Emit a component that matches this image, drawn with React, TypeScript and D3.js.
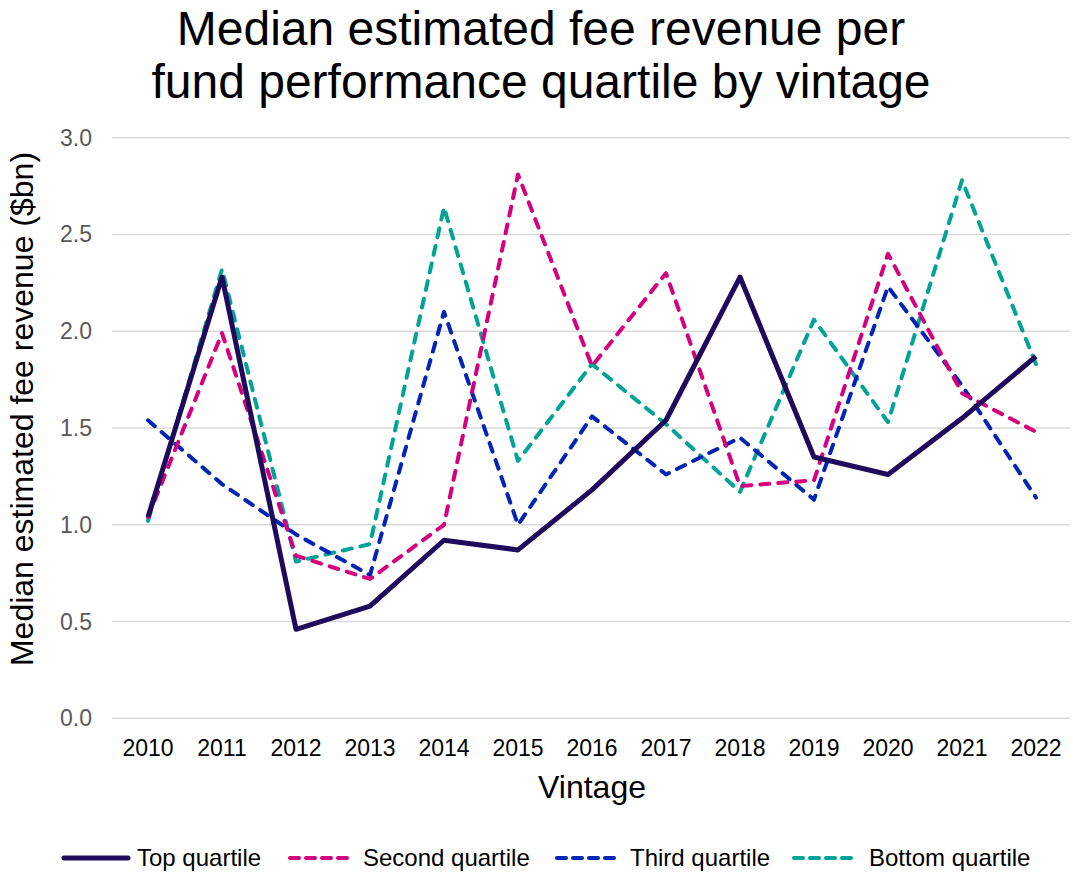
import React from 'react'
import * as d3 from 'd3'

const width = 1073
const height = 873

const vintages = ['2010', '2011', '2012', '2013', '2014', '2015', '2016', '2017', '2018', '2019', '2020', '2021', '2022']
const topQuartile = [1.04, 2.28, 0.46, 0.58, 0.92, 0.87, 1.18, 1.54, 2.28, 1.35, 1.26, 1.55, 1.87]
const secondQuartile = [1.04, 1.99, 0.84, 0.72, 1.0, 2.81, 1.82, 2.3, 1.2, 1.23, 2.4, 1.68, 1.48]
const thirdQuartile = [1.54, 1.21, 0.95, 0.74, 2.1, 1.0, 1.56, 1.26, 1.45, 1.13, 2.23, 1.72, 1.14]
const bottomQuartile = [1.02, 2.32, 0.81, 0.9, 2.64, 1.33, 1.83, 1.52, 1.17, 2.06, 1.53, 2.78, 1.83]
const yTicks = [0, 0.5, 1.0, 1.5, 2.0, 2.5, 3.0]

const seriesNames = ['Top quartile', 'Second quartile', 'Third quartile', 'Bottom quartile']
const seriesColors = ['#1f0b5b', '#d5007f', '#0024b4', '#00a395']

const font = 'Arial, "Liberation Sans", sans-serif'

export default function App() {
  const x = d3.scalePoint<string>().domain(vintages).range([148, 1036])
  const y = d3.scaleLinear().domain([0, 3]).range([718.3, 137.7])

  const line = d3.line<number>()
    .x((_, i) => x(vintages[i]) as number)
    .y(d => y(d))

  const series = [topQuartile, secondQuartile, thirdQuartile, bottomQuartile]
  // legend: [line start, line end, text x]
  const legendPos = [[64, 128, 137], [290, 347, 363], [557, 615, 630], [794, 851, 869]]

  return (
    <svg width={width} height={height} style={{ position: 'absolute', left: 0, top: 0, background: '#fff' }}>
      <rect width={width} height={height} fill="#fff" />
      <text x={541} y={45} textAnchor="middle" fontFamily={font} fontSize={48} fill="#000">Median estimated fee revenue per</text>
      <text x={541} y={98} textAnchor="middle" fontFamily={font} fontSize={48} fill="#000">fund performance quartile by vintage</text>

      {yTicks.map(t => (
        <g key={t}>
          <line x1={112} x2={1070} y1={y(t)} y2={y(t)} stroke="#d9d9d9" strokeWidth={1.5} />
          <text x={92} y={y(t) + 8} textAnchor="end" fontFamily={font} fontSize={23} fill="#595959">{t.toFixed(1)}</text>
        </g>
      ))}

      {vintages.map(v => (
        <text key={v} x={x(v)} y={756} textAnchor="middle" fontFamily={font} fontSize={23} fill="#000">{v}</text>
      ))}

      <text x={592} y={798} textAnchor="middle" fontFamily={font} fontSize={32} fill="#000">Vintage</text>
      <text transform="translate(33,409) rotate(-90)" textAnchor="middle" fontFamily={font} fontSize={32} fill="#000">Median estimated fee revenue ($bn)</text>

      {series.slice().reverse().map((s, ri) => {
        const i = series.length - 1 - ri
        return (
          <path key={i} d={line(s) || ''} fill="none" stroke={seriesColors[i]}
            strokeWidth={i === 0 ? 5 : 4}
            strokeDasharray={i === 0 ? undefined : '9,9'}
            strokeLinecap={i === 0 ? 'butt' : 'round'}
            strokeLinejoin="round" />
        )
      })}

      {seriesNames.map((name, i) => (
        <g key={name}>
          <line x1={legendPos[i][0]} x2={legendPos[i][1]} y1={858} y2={858} stroke={seriesColors[i]}
            strokeWidth={i === 0 ? 5 : 4}
            strokeDasharray={i === 0 ? undefined : '9,7'}
            strokeLinecap="round" />
          <text x={legendPos[i][2]} y={866} fontFamily={font} fontSize={24} fill="#000">{name}</text>
        </g>
      ))}
    </svg>
  )
}
